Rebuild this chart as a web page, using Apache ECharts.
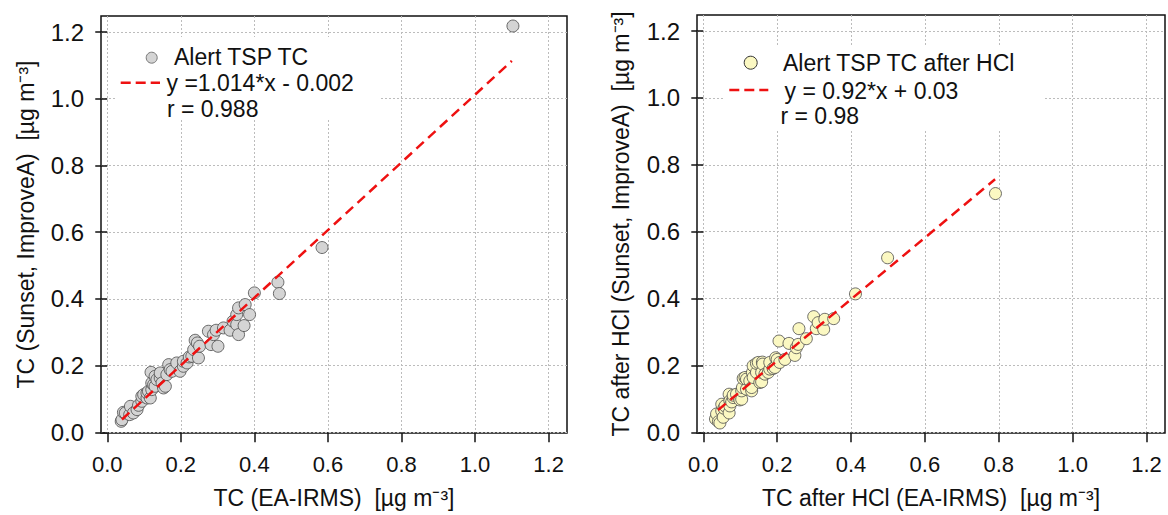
<!DOCTYPE html>
<html>
<head>
<meta charset="utf-8">
<script src="https://cdn.jsdelivr.net/npm/echarts@6/dist/echarts.min.js"></script>
<style>
html,body{margin:0;padding:0;background:#fff;}
#c{width:1168px;height:515px;}
</style>
</head>
<body>
<div id="c"></div>
<script>
// ---- data ----
const tickValues = [0, 0.2, 0.4, 0.6, 0.8, 1.0, 1.2];

// Left panel: TC (EA-IRMS) vs TC (Sunset, ImproveA)
const tspTC = [
  [0.038,0.033],[0.040,0.038],[0.044,0.060],[0.049,0.058],[0.061,0.053],[0.063,0.078],
  [0.071,0.058],[0.081,0.068],[0.085,0.081],[0.094,0.093],[0.094,0.108],[0.099,0.113],
  [0.108,0.103],[0.108,0.118],[0.112,0.123],[0.117,0.103],[0.119,0.180],[0.121,0.128],
  [0.121,0.148],[0.126,0.143],[0.130,0.168],[0.130,0.138],[0.135,0.158],[0.144,0.163],
  [0.144,0.178],[0.149,0.148],[0.153,0.133],[0.158,0.138],[0.162,0.173],[0.167,0.203],
  [0.171,0.188],[0.176,0.183],[0.189,0.208],[0.198,0.183],[0.207,0.198],[0.207,0.213],
  [0.217,0.208],[0.223,0.226],[0.230,0.228],[0.235,0.248],[0.239,0.276],[0.245,0.268],
  [0.248,0.223],[0.251,0.258],[0.275,0.303],[0.282,0.263],[0.289,0.293],[0.296,0.306],
  [0.301,0.258],[0.316,0.313],[0.334,0.306],[0.342,0.333],[0.352,0.323],[0.352,0.353],
  [0.357,0.293],[0.357,0.373],[0.372,0.320],[0.375,0.383],[0.387,0.353],[0.400,0.418],
  [0.464,0.450],[0.468,0.416],[0.584,0.554],[1.103,1.218]
];
const tspFitX = [0.04, 1.10];
const tspFitCoef = [1.014, -0.002];

// Right panel: TC after HCl
const tspTCHCl = [
  [0.033,0.040],[0.036,0.055],[0.041,0.032],[0.045,0.028],[0.050,0.064],[0.050,0.084],
  [0.054,0.045],[0.056,0.072],[0.059,0.079],[0.070,0.058],[0.070,0.114],[0.072,0.094],
  [0.072,0.079],[0.077,0.091],[0.081,0.104],[0.081,0.111],[0.090,0.114],[0.099,0.097],
  [0.104,0.099],[0.104,0.124],[0.106,0.134],[0.108,0.161],[0.113,0.164],[0.117,0.129],
  [0.117,0.159],[0.126,0.154],[0.131,0.124],[0.131,0.134],[0.133,0.179],[0.135,0.164],
  [0.135,0.199],[0.144,0.179],[0.144,0.206],[0.149,0.209],[0.153,0.149],[0.158,0.151],
  [0.158,0.179],[0.160,0.210],[0.161,0.204],[0.167,0.174],[0.176,0.179],[0.180,0.189],
  [0.180,0.209],[0.189,0.191],[0.194,0.194],[0.196,0.223],[0.200,0.218],[0.205,0.273],
  [0.207,0.209],[0.221,0.218],[0.232,0.266],[0.248,0.230],[0.252,0.253],[0.257,0.263],
  [0.259,0.310],[0.279,0.280],[0.299,0.346],[0.306,0.310],[0.311,0.328],[0.326,0.308],
  [0.329,0.338],[0.353,0.340],[0.412,0.414],[0.499,0.522],[0.791,0.714]
];
const hclFitX = [0.04, 0.79];
const hclFitCoef = [0.92, 0.03];

const legendLeft = ['Alert TSP TC', 'y =1.014*x - 0.002', 'r = 0.988'];
const legendRight = ['Alert TSP TC after HCl', 'y = 0.92*x + 0.03', 'r = 0.98'];
const xTitles = ['TC (EA-IRMS)  [\u00b5g m\u207b\u00b3]', 'TC after HCl (EA-IRMS)  [\u00b5g m\u207b\u00b3]'];
const yTitles = ['TC (Sunset, ImproveA)  [\u00b5g m\u207b\u00b3]', 'TC after HCl (Sunset, ImproveA)  [\u00b5g m\u207b\u00b3]'];

// ---- chart ----
const FONT = "'Liberation Sans', Arial, sans-serif";
const chart = echarts.init(document.getElementById('c'), null, {renderer: 'svg'});

function fitLine(xs, coef) {
  return xs.map(x => [x, coef[0] * x + coef[1]]);
}

function xAxisCfg(idx, name) {
  return {
    gridIndex: idx, type: 'value', min: -0.017, max: 1.25,
    offset: 7,
    name: name, nameLocation: 'middle', nameGap: 46,
    nameTextStyle: {fontFamily: FONT, fontSize: 23, color: '#111'},
    axisLine: {show: false},
    axisTick: {show: true, length: 10, customValues: tickValues, lineStyle: {color: '#111', width: 1.5}},
    axisLabel: {customValues: tickValues, formatter: v => v.toFixed(1), margin: 13,
      fontFamily: FONT, fontSize: 22, color: '#111'},
    splitLine: {show: true, lineStyle: {color: '#bcbcbc', type: [2, 2], width: 1}}
  };
}
function yAxisCfg(idx, name, gap) {
  return {
    gridIndex: idx, type: 'value', min: -0.002, max: 1.248,
    name: name, nameLocation: 'middle', nameGap: gap,
    nameTextStyle: {fontFamily: FONT, fontSize: 23, color: '#111'},
    axisLine: {show: false},
    axisTick: {show: true, length: 12, customValues: tickValues, lineStyle: {color: '#111', width: 1.5}},
    axisLabel: {customValues: tickValues, formatter: v => v.toFixed(1), margin: 17,
      fontFamily: FONT, fontSize: 24, color: '#111'},
    splitLine: {show: true, lineStyle: {color: '#bcbcbc', type: [2, 2], width: 1}}
  };
}

function legendGraphic(x0, y0, w, h, circ, circFill, circStroke, line, texts) {
  return [
    {type: 'rect', shape: {x: x0, y: y0, width: w, height: h}, style: {fill: '#fff'}, z: 1, silent: true},
    {type: 'circle', shape: {cx: circ[0], cy: circ[1], r: circ[2]}, style: {fill: circFill, stroke: circStroke, lineWidth: 1}, z: 5},
    {type: 'line', shape: {x1: line[0], y1: line[2], x2: line[1], y2: line[2]}, style: {stroke: '#ee1111', lineWidth: 2.5, lineDash: [10, 5]}, z: 5},
    ...texts.map(t => ({type: 'text', x: t[1], y: t[2], z: 5,
      style: {text: t[0], font: '23px ' + FONT, fill: '#111', verticalAlign: 'middle', align: 'left'}}))
  ];
}

const option = {
  animation: false,
  backgroundColor: '#fff',
  grid: [
    {left: 101, top: 16, width: 466, height: 417, show: true, borderColor: '#111', borderWidth: 1.5, backgroundColor: 'transparent'},
    {left: 697, top: 15, width: 468, height: 418, show: true, borderColor: '#111', borderWidth: 1.5, backgroundColor: 'transparent'}
  ],
  xAxis: [xAxisCfg(0, xTitles[0]), xAxisCfg(1, xTitles[1])],
  yAxis: [yAxisCfg(0, yTitles[0], 64), yAxisCfg(1, yTitles[1], 65)],
  series: [
    {name: legendLeft[0], type: 'scatter', xAxisIndex: 0, yAxisIndex: 0, data: tspTC, symbolSize: 12, z: 3,
      itemStyle: {color: '#d4d4d4', borderColor: '#4a4a4a', borderWidth: 0.8, opacity: 1}},
    {name: legendLeft[1], type: 'line', xAxisIndex: 0, yAxisIndex: 0, data: fitLine(tspFitX, tspFitCoef), symbol: 'none', z: 4,
      lineStyle: {color: '#ee1111', width: 2.5, type: [10, 6]}},
    {name: legendRight[0], type: 'scatter', xAxisIndex: 1, yAxisIndex: 1, data: tspTCHCl, symbolSize: 12, z: 3,
      itemStyle: {color: '#fbf8c2', borderColor: '#4a4a4a', borderWidth: 0.8, opacity: 1}},
    {name: legendRight[1], type: 'line', xAxisIndex: 1, yAxisIndex: 1, data: fitLine(hclFitX, hclFitCoef), symbol: 'none', z: 4,
      lineStyle: {color: '#ee1111', width: 2.5, type: [10, 6]}}
  ],
  graphic: [
    ...legendGraphic(115, 37, 265, 82, [151.7, 57.7, 5.5], '#d4d4d4', '#777', [120.7, 160, 82.7],
      [[legendLeft[0], 174, 56.5], [legendLeft[1], 166.5, 83], [legendLeft[2], 167, 108.5]]),
    ...legendGraphic(725, 47, 320, 83, [750.7, 62.7, 6.5], '#fbf8c2', '#333', [729.3, 768.3, 90],
      [[legendRight[0], 783, 62.5], [legendRight[1], 784.5, 90.5], [legendRight[2], 780.5, 116]])
  ]
};
chart.setOption(option);
</script>
</body>
</html>
